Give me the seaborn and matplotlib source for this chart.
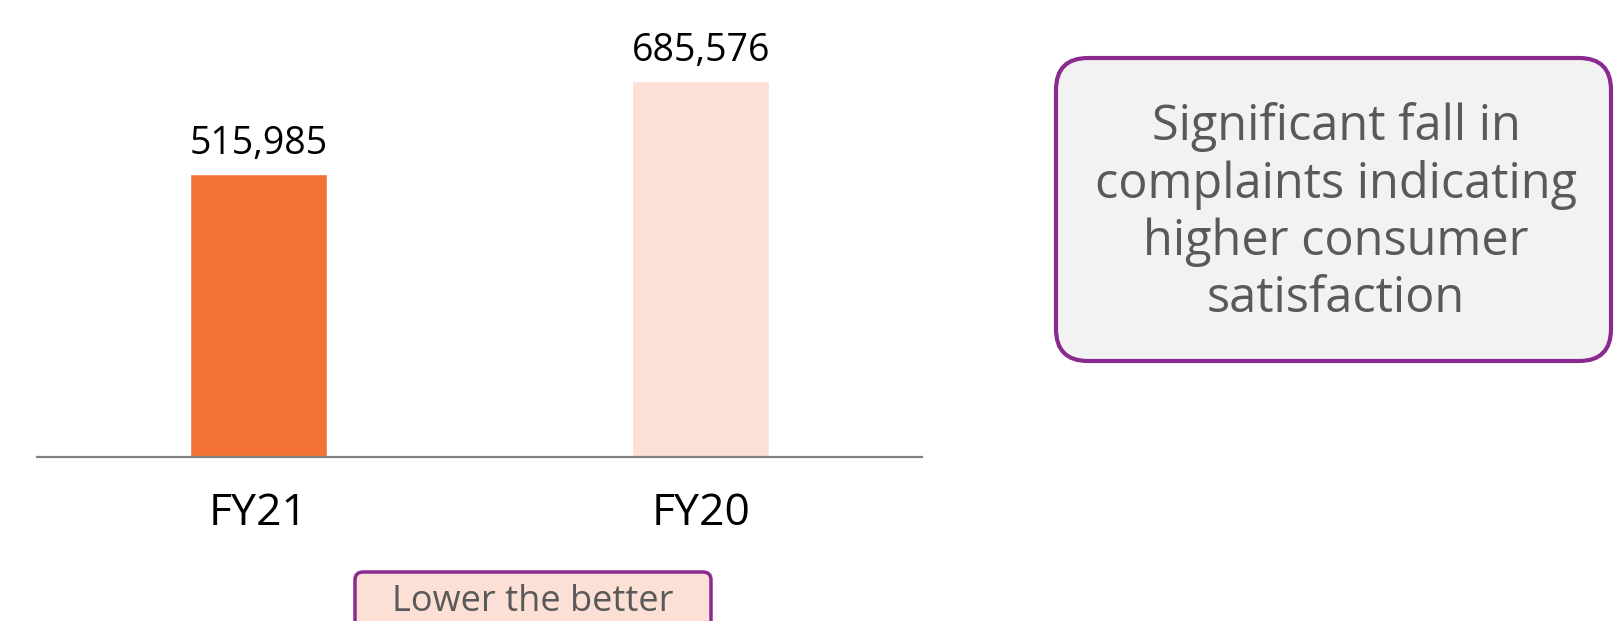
import matplotlib
matplotlib.use("Agg")
import matplotlib.pyplot as plt
import seaborn as sns
import pandas as pd
from matplotlib.patches import FancyBboxPatch

# Data
years = ["FY21", "FY20"]
complaints = [515985, 685576]
bar_colors = ["#f37335", "#fcdfd5"]

note_text = "Significant fall in\ncomplaints indicating\nhigher consumer\nsatisfaction"
badge_text = "Lower the better"

purple = "#8b2a8e"
grey_text = "#595959"

sns.set_theme(style="white")
plt.rcParams['font.family'] = ['Open Sans', 'DejaVu Sans']

data = pd.DataFrame({"Year": years, "Complaints": complaints})

fig = plt.figure(figsize=(16.14, 6.21), dpi=100)
fig.patch.set_facecolor("white")

# main bar axes (pixel layout of the reference)
ax = fig.add_axes([37 / 1614, (621 - 457) / 621, (922 - 37) / 1614, 457 / 621])
sns.barplot(data=data, x="Year", y="Complaints", hue="Year",
            palette=bar_colors, legend=False, width=0.31, ax=ax,
            saturation=1)
ax.set_xlim(-0.5, 1.5)
ax.set_ylim(0, 833300)

for c in ax.containers:
    ax.bar_label(c, labels=[f"{v:,.0f}" for v in c.datavalues],
                 padding=8, fontsize=27, color="black")

for s in ["top", "right", "left"]:
    ax.spines[s].set_visible(False)
ax.spines["bottom"].set_color("#808080")
ax.spines["bottom"].set_linewidth(1.6)
ax.set_yticks([])
ax.set_xlabel("")
ax.set_ylabel("")
ax.tick_params(axis="x", length=0, pad=25, labelsize=32, labelcolor="black")

# overlay axes in pixel coordinates for the text boxes
ov = fig.add_axes([0, 0, 1, 1])
ov.set_xlim(0, 1614)
ov.set_ylim(621, 0)
ov.axis("off")
ov.patch.set_alpha(0)

note_box = FancyBboxPatch((1056, 58), 555, 303,
                          boxstyle="round,pad=0,rounding_size=32",
                          facecolor="#f2f2f2", edgecolor=purple, linewidth=3)
ov.add_patch(note_box)
ov.text(1336, 213, note_text, ha="center", va="center", fontsize=35,
        color=grey_text, linespacing=1.21)

badge_box = FancyBboxPatch((355, 572), 356, 70,
                           boxstyle="round,pad=0,rounding_size=8",
                           facecolor="#fcdfd5", edgecolor=purple, linewidth=2.5)
ov.add_patch(badge_box)
ov.text(533, 611, badge_text, ha="center", va="baseline", fontsize=26,
        color=grey_text)

fig.savefig("out.png", dpi=100)
